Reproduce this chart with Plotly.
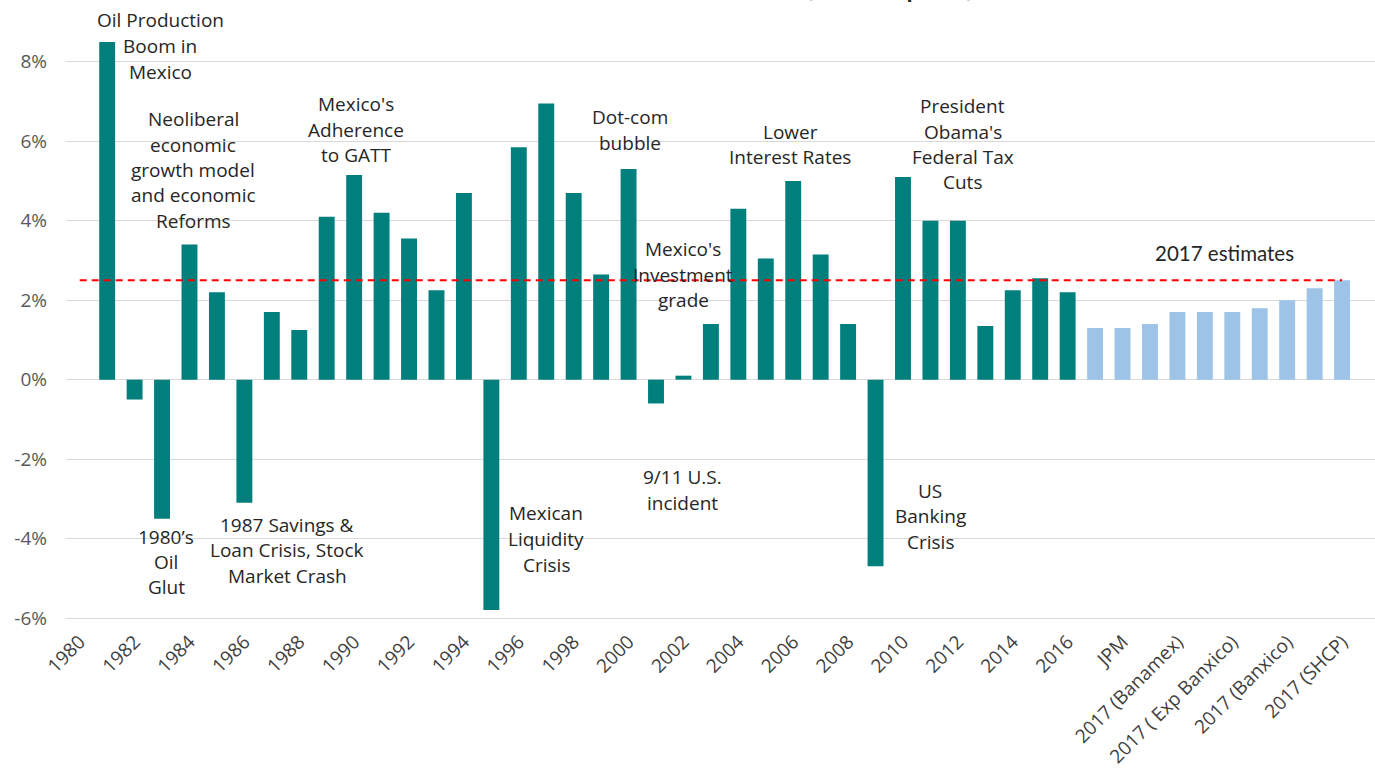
import plotly.graph_objects as go

# ---- data ----
years = [str(y) for y in range(1980, 2017)]
gdp_growth = [None, 8.5, -0.5, -3.5, 3.4, 2.2, -3.1, 1.7, 1.25, 4.1,
              5.15, 4.2, 3.55, 2.25, 4.7, -5.8, 5.85, 6.95, 4.7, 2.65,
              5.3, -0.6, 0.1, 1.4, 4.3, 3.05, 5.0, 3.15, 1.4, -4.7,
              5.1, 4.0, 4.0, 1.35, 2.25, 2.55, 2.2]

estimate_names = ["2017 (est. 1)", "JPM", "2017 (est. 2)", "2017 (Banamex)",
                  "2017 (est. 3)", "2017 ( Exp Banxico)", "2017 (est. 4)",
                  "2017 (Banxico)", "2017 (est. 5)", "2017 (SHCP)"]
estimate_values = [1.3, 1.3, 1.4, 1.7, 1.7, 1.7, 1.8, 2.0, 2.3, 2.5]

reference_level = 2.5

categories = years + estimate_names
tick_labels = categories[::2]

# ---- figure ----
TEAL = "#007F7D"
LIGHT = "#9DC3E6"
TXT = "#262626"
FONT = "Open Sans"

fig = go.Figure()
fig.add_trace(go.Bar(x=years, y=gdp_growth, marker_color=TEAL,
                     marker_line_width=0, width=0.58, name="GDP growth"))
fig.add_trace(go.Bar(x=estimate_names, y=estimate_values, marker_color=LIGHT,
                     marker_line_width=0, width=0.58, name="2017 estimates"))
fig.add_trace(go.Scatter(x=categories, y=[reference_level] * len(categories),
                         mode="lines",
                         line=dict(color="#FF0000", width=2, dash="7px,5px"),
                         hoverinfo="skip", name="2.5%"))

# plot geometry (pixels) used to place the free text in paper coordinates
L, T, W, H = 66, 38, 1309, 582
XR = (-0.5, 47.2)
YR = (-6.05, 8.6)


def paper_x(px):
    return (px - L) / W


def paper_y(py):
    return 1 - (py - T) / H


notes = [
    (160, [20, 46, 72], ["Oil Production", "Boom in", "Mexico"]),
    (193, [119, 145, 170, 195, 221],
     ["Neoliberal", "economic", "growth model", "and economic", "Reforms"]),
    (356, [104, 130, 155], ["Mexico's", "Adherence", "to GATT"]),
    (166, [537, 562, 587], ["1980’s", "Oil", "Glut"]),
    (287, [525, 550, 576], ["1987 Savings &", "Loan Crisis, Stock", "Market Crash"]),
    (546, [513, 539, 565], ["Mexican", "Liquidity", "Crisis"]),
    (630, [117, 143], ["Dot-com", "bubble"]),
    (683, [249, 275, 300], ["Mexico's", "Investment", "grade"]),
    (682, [477, 503], ["9/11 U.S.", "incident"]),
    (790, [132, 157], ["Lower", "Interest Rates"]),
    (963, [106, 132, 157, 182], ["President", "Obama's", "Federal Tax", "Cuts"]),
    (930, [491, 516, 542], ["US", "Banking", "Crisis"]),
]

annotations = []
for cx, ys, lines in notes:
    for py, line in zip(ys, lines):
        annotations.append(dict(x=paper_x(cx), y=paper_y(py), xref="paper",
                                yref="paper", text=line, showarrow=False,
                                xanchor="center", yanchor="middle",
                                font=dict(family=FONT, size=19, color=TXT)))

annotations.append(dict(x=paper_x(1224), y=paper_y(253), xref="paper",
                        yref="paper", text="2017 estimates", showarrow=False,
                        xanchor="center", yanchor="middle",
                        font=dict(family="Lato", size=20.5, color=TXT)))

# title (mostly outside the visible page, as in the reference)
annotations.append(dict(x=paper_x(975), y=1 + 33 / H, xref="paper", yref="paper",
                        text="<b>Mexico's Annual GDP Growth (constant prices)</b>",
                        showarrow=False, xanchor="right", yanchor="bottom",
                        font=dict(family=FONT, size=20, color=TXT)))

fig.update_layout(
    width=1375, height=781,
    margin=dict(l=L, r=1375 - L - W, t=T, b=781 - T - H, pad=0),
    paper_bgcolor="white", plot_bgcolor="white",
    barmode="overlay", showlegend=False,
    annotations=annotations,
    font=dict(family=FONT),
)
fig.update_xaxes(type="category", categoryorder="array", categoryarray=categories,
                 range=list(XR), tickmode="array", tickvals=tick_labels,
                 ticktext=tick_labels, tickangle=-45,
                 tickfont=dict(family=FONT, size=19, color="#404040"),
                 showgrid=False, showline=False, zeroline=False, ticks="",
                 ticklabelstandoff=6, automargin=False)
fig.update_yaxes(range=list(YR), tickvals=[-6, -4, -2, 0, 2, 4, 6, 8],
                 ticktext=["-6%", "-4%", "-2%", "0%", "2%", "4%", "6%", "8%"],
                 tickfont=dict(family=FONT, size=19, color="#595959"),
                 showgrid=True, gridcolor="#D9D9D9", gridwidth=1,
                 zeroline=False, showline=False, ticks="", ticklabelstandoff=18,
                 automargin=False)

fig.write_html("out.html",
               config={"displayModeBar": False},
               post_script="document.body.style.margin='0';"
                           "document.body.style.overflow='hidden';")
